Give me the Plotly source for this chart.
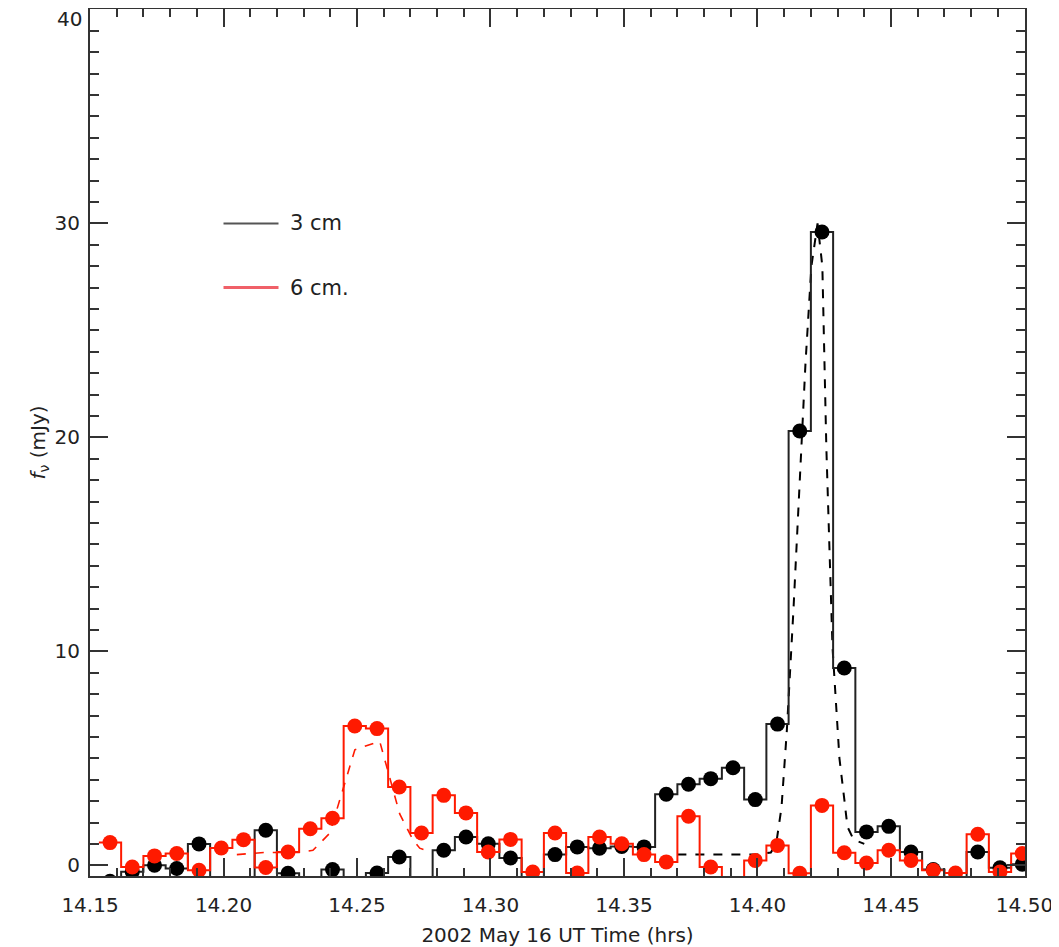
import plotly.graph_objects as go

# ---- data ----
bin_start = 14.1575          # centre of first 30 s bin (hrs)
bin_width = 1.0 / 120.0      # 30 s in hours
n_bins = 42
t_bins = [round(bin_start + k * bin_width, 5) for k in range(n_bins)]

# 3 cm binned flux density (mJy); values below the axis are clipped in the figure
flux_3cm = [-0.75, -0.3, 0.0, -0.15, 1.0, -1.0, -1.0, 1.64, -0.37, -1.0,
            -0.2, -1.0, -0.36, 0.39, -1.0, 0.70, 1.32, 1.01, 0.34, -1.0,
            0.50, 0.86, 0.80, 0.88, 0.86, 3.32, 3.79, 4.05, 4.56, 3.07,
            6.6, 20.3, 29.6, 9.22, 1.56, 1.82, 0.62, -0.2, -1.0, 0.62,
            -0.12, 0.05]

# 6 cm binned flux density (mJy)
flux_6cm = [1.06, -0.08, 0.44, 0.55, -0.23, 0.81, 1.2, -0.1, 0.62, 1.71,
            2.2, 6.51, 6.39, 3.66, 1.51, 3.27, 2.45, 0.62, 1.21, -0.31,
            1.51, -0.36, 1.32, 1.01, 0.5, 0.16, 2.29, -0.08, -1.0, 0.23,
            0.93, -0.37, 2.8, 0.59, 0.11, 0.7, 0.23, -0.23, -0.36, 1.45,
            -0.31, 0.55]

# dashed curves (finer light curves)
t_dash_3cm = [14.370, 14.380, 14.390, 14.400, 14.405, 14.407, 14.409, 14.411,
              14.4135, 14.4157, 14.418, 14.4202, 14.4225, 14.4243, 14.4258,
              14.4281, 14.4307, 14.4326, 14.4337, 14.436, 14.440]
f_dash_3cm = [0.5, 0.5, 0.5, 0.5, 0.6, 1.0, 2.7, 6.3, 12.0, 17.5, 23.5, 28.0,
              30.0, 28.0, 19.5, 10.2, 5.0, 3.0, 1.8, 1.2, 1.0]

t_dash_6cm = [14.205, 14.2155, 14.2286, 14.2335, 14.2398, 14.2462, 14.2481,
              14.2492, 14.2585, 14.2615, 14.266, 14.2709, 14.2735, 14.278]
f_dash_6cm = [0.5, 0.6, 0.6, 0.7, 1.5, 4.2, 5.0, 5.4, 5.8, 4.4, 2.4, 1.2, 0.8, 0.6]

legend_labels = ["3 cm", "6 cm."]
x_ticks = [14.15, 14.20, 14.25, 14.30, 14.35, 14.40, 14.45, 14.50]
y_ticks = [0, 10, 20, 30, 40]

BLACK = "#000000"
RED = "#ff1a00"
TXT = "#222222"
FONT = "DejaVu Sans"


def step_xy(centres, values, width):
    xs = [c - width / 2 for c in centres] + [centres[-1] + width / 2]
    ys = list(values) + [values[-1]]
    return xs, ys


fig = go.Figure()

bx, by = step_xy(t_bins, flux_3cm, bin_width)
rx, ry = step_xy(t_bins, flux_6cm, bin_width)

fig.add_trace(go.Scatter(x=t_dash_6cm, y=f_dash_6cm, mode="lines",
                         line=dict(color=RED, width=1.6, dash="dash"),
                         showlegend=False))
fig.add_trace(go.Scatter(x=t_dash_3cm, y=f_dash_3cm, mode="lines",
                         line=dict(color=BLACK, width=2, dash="dash"),
                         showlegend=False))
fig.add_trace(go.Scatter(x=bx, y=by, mode="lines", line_shape="hv",
                         line=dict(color="#222222", width=2), showlegend=False))
fig.add_trace(go.Scatter(x=rx, y=ry, mode="lines", line_shape="hv",
                         line=dict(color=RED, width=2), showlegend=False))
fig.add_trace(go.Scatter(x=t_bins, y=flux_3cm, mode="markers",
                         marker=dict(color=BLACK, size=15), showlegend=False))
fig.add_trace(go.Scatter(x=t_bins, y=flux_6cm, mode="markers",
                         marker=dict(color=RED, size=15), showlegend=False))

# legend drawn as in the original (line sample + label), placed in data units
leg_y = [30.0, 27.0]
leg_x0, leg_x1, leg_tx = 14.2000, 14.2206, 14.2240
line_styles = [dict(color="#555555", width=2), dict(color="#f06068", width=3)]
for yv, lab, ls in zip(leg_y, legend_labels, line_styles):
    fig.add_shape(type="line", xref="x", yref="y", x0=leg_x0, x1=leg_x1,
                  y0=yv, y1=yv, line=ls)
    fig.add_annotation(xref="x", yref="y", x=leg_tx, y=yv, text=lab,
                       showarrow=False, xanchor="left", yanchor="middle",
                       font=dict(family=FONT, size=21, color=TXT))

# top y label sits just below its tick (it would be cut off at the page top)
fig.add_annotation(xref="paper", yref="y", x=0, y=y_ticks[-1], text=str(y_ticks[-1]),
                   showarrow=False, xanchor="right", yanchor="middle",
                   xshift=-6, yshift=-10, font=dict(family=FONT, size=20, color=TXT))

axis_common = dict(
    showline=True, linecolor="#333333", linewidth=2, mirror="ticks",
    ticks="inside", tickcolor="#333333", tickwidth=1.5,
    showgrid=False, zeroline=False, automargin=False,
    tickfont=dict(family=FONT, size=20, color=TXT),
)

fig.update_xaxes(range=[14.15, 14.5002], tickvals=x_ticks,
                 ticktext=[f"{v:.2f}" for v in x_ticks], ticklen=18,
                 minor=dict(ticks="inside", dtick=0.01, ticklen=8,
                            tickcolor="#333333", tickwidth=1.5, showgrid=False),
                 title=dict(text="2002 May 16 UT Time (hrs)", standoff=20,
                            font=dict(family=FONT, size=20, color=TXT)),
                 ticklabelstandoff=10, ticklabeloverflow="allow",
                 **axis_common)
fig.update_yaxes(range=[-0.5, 40.02], tickvals=y_ticks,
                 ticktext=[str(v) for v in y_ticks[:-1]] + [""], ticklen=18,
                 minor=dict(ticks="inside", dtick=1, ticklen=9,
                            tickcolor="#333333", tickwidth=1.5, showgrid=False),
                 title=dict(text="<i>f</i><sub>ν</sub> (mJy)", standoff=4,
                            font=dict(family=FONT, size=20, color=TXT)),
                 ticklabelstandoff=4,
                 **axis_common)

# the page body adds an 8 px margin, so the figure is 8 px smaller
fig.update_layout(
    width=1051, height=939,
    margin=dict(l=82, r=34, t=1, b=71),
    paper_bgcolor="white", plot_bgcolor="white",
    showlegend=False,
)

fig.write_html("out.html")
